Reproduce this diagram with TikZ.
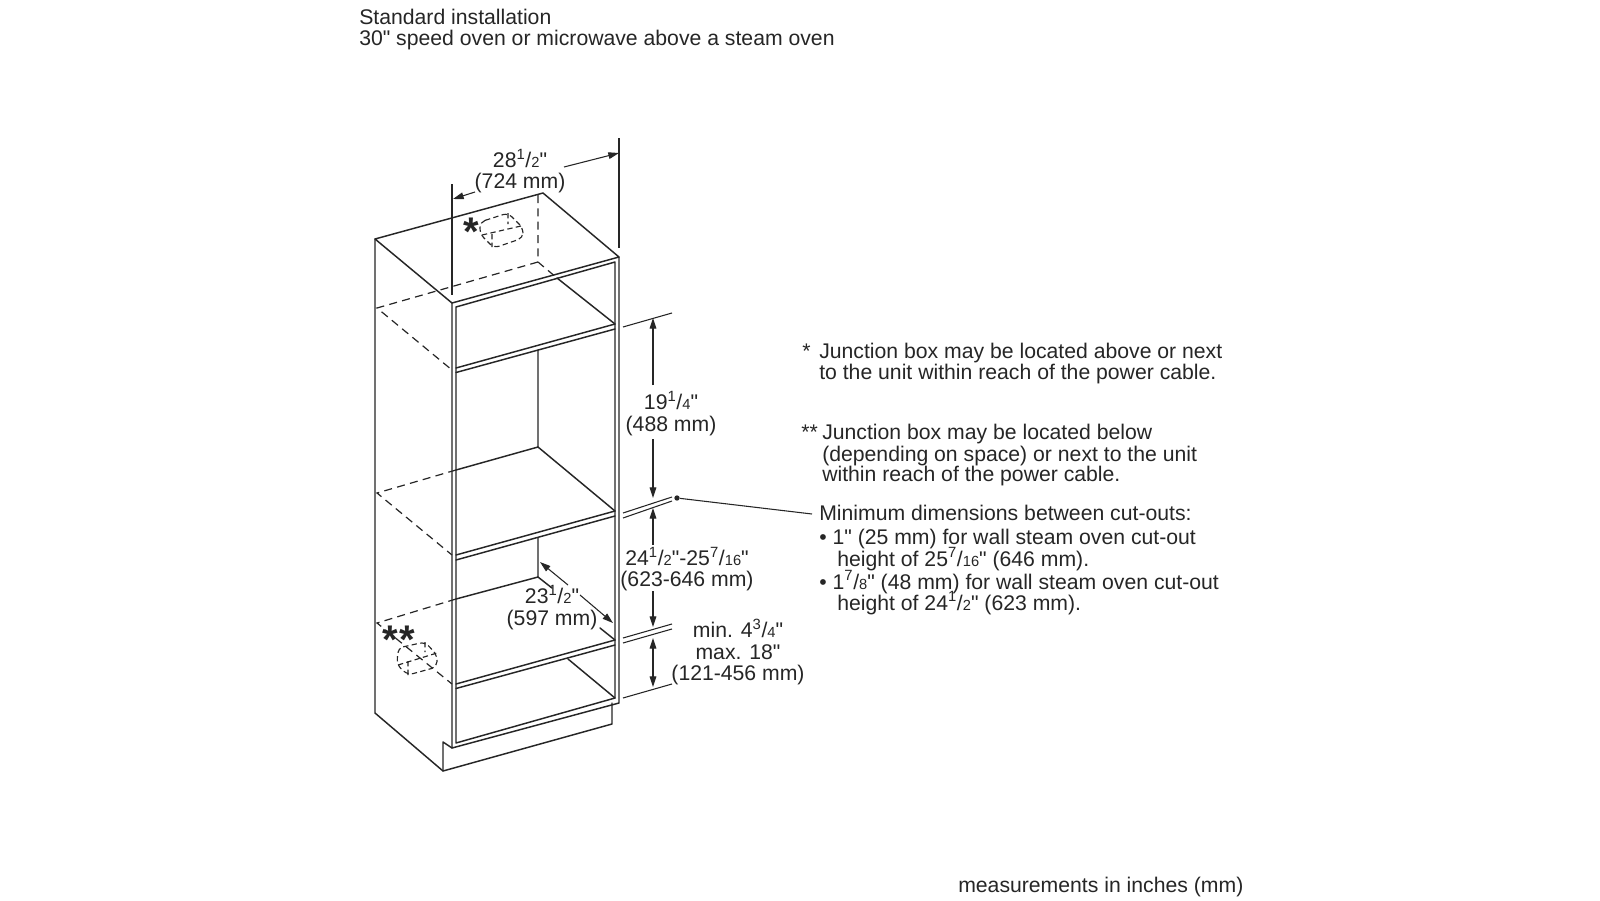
\documentclass[tikz,border=0pt]{standalone}
\usepackage{fontspec}
\newfontfamily\lsans{Liberation Sans}
\usetikzlibrary{arrows.meta}
\tikzset{
 px/.style={x=0.75pt,y=-0.75pt},
 ln/.style={draw=black!85,line width=1.1pt,line cap=round,line join=round},
 dsh/.style={draw=black!85,line width=0.9pt,dash pattern=on 6pt off 4pt},
 jb/.style={draw=black!85,line width=0.85pt,dash pattern=on 4pt off 2.5pt},
 thn/.style={draw=black!85,line width=0.8pt},
 dim/.style={draw=black!85,line width=0.8pt,-{Triangle[length=8pt,width=5pt]}},
 dimb/.style={draw=black!85,line width=0.8pt,{Triangle[length=8pt,width=5pt]}-{Triangle[length=8pt,width=5pt]}},
 star/.style={inner sep=0pt,font=\lsans\bfseries\fontsize{30pt}{30pt}\selectfont,text=black!85},
 txt/.style={inner sep=0pt,font=\lsans\fontsize{15.9pt}{16pt}\selectfont,text=black!85,align=center},
 ltxt/.style={inner sep=0pt,font=\lsans\fontsize{15.9pt}{16pt}\selectfont,text=black!85,anchor=base west},
}
\newcommand{\fr}[2]{\textsuperscript{#1}/{\fontsize{11pt}{11pt}\selectfont #2}}
\begin{document}
\begin{tikzpicture}[px]
\useasboundingbox[fill=white] (0,0) rectangle (1600,900);
% cabinet
\draw[ln] (452,303) -- (375,239) -- (543,193) -- (619,257) -- cycle;
\draw[ln] (375,239) -- (375,713) -- (443,771) -- (612,724) -- (612,703);
\draw[ln] (443,771) -- (443,742) -- (452,748);
\draw[ln] (452,303) -- (452,748) -- (619,703) -- (619,257);
\draw[ln] (456,307) -- (615,262) -- (615,698) -- (456,743) -- cycle;
\draw[ln] (456,368) -- (615,324); \draw[ln] (456,372.5) -- (615,329);
\draw[ln] (456,555) -- (615,511); \draw[ln] (456,560) -- (615,516);
\draw[ln] (456,684) -- (615,640); \draw[ln] (456,688.5) -- (615,645);
% interior
\draw[dsh] (538,195) -- (538,262) -- (557,278);
\draw[dsh] (538,262) -- (377,308) -- (452,370);
\draw[ln] (557,278) -- (615,324);
\draw[ln] (538,350) -- (538,447) -- (456,470);
\draw[ln] (538,447) -- (615,511);
\draw[dsh] (456,470) -- (377,493) -- (452,555);
\draw[ln] (538,538) -- (538,577) -- (456,599);
\draw[dsh] (456,599) -- (377,623) -- (452,684);
\draw[ln] (600,628) -- (615,640);
\draw[ln] (538,577) -- (552,588);
\draw[ln] (568,659) -- (615,698);
% junction boxes
\draw[jb,rounded corners=4pt] (480,222) -- (508,213) -- (523,228) -- (523,238) -- (494,248) -- (480,234) -- cycle;
\draw[jb] (482,235) -- (521,226) (508,213) -- (508,224) (492,234)--(492,247);
\draw[jb,rounded corners=4pt] (398,648) -- (425,642) -- (437,655) -- (437,667) -- (408,675) -- (397,665) -- cycle;
\draw[jb] (398,665) -- (437,653) (425,642) -- (425,652) (408,661)--(408,675);
% extension lines
\draw[thn] (452,184) -- (452,295);
\draw[thn] (619,138) -- (619,248);
\draw[thn] (623,327) -- (672,313);
\draw[thn] (623,513) -- (672,497); \draw[thn] (623,518) -- (672,501);
\draw[thn] (623,638) -- (672,624); \draw[thn] (623,643) -- (672,629);
\draw[thn] (623,698) -- (672,684);
% dimensions
\coordinate (w1) at (475,192); \coordinate (w2) at (453,199);
\coordinate (w3) at (564,167); \coordinate (w4) at (619,153);
\draw[dim] (w1) -- (w2); \draw[dim] (w3) -- (w4);
\coordinate (a1) at (653,385); \coordinate (a2) at (653,318);
\coordinate (a3) at (653,439); \coordinate (a4) at (653,498);
\coordinate (a5) at (653,545); \coordinate (a6) at (653,508);
\coordinate (a7) at (653,591); \coordinate (a8) at (653,627);
\coordinate (a9) at (653,638); \coordinate (a10) at (653,687);
\draw[dim] (a1) -- (a2); \draw[dim] (a3) -- (a4);
\draw[dim] (a5) -- (a6); \draw[dim] (a7) -- (a8);
\draw[dimb] (a9) -- (a10);
\coordinate (d1) at (568,585); \coordinate (d2) at (540,562);
\coordinate (d3) at (580,595); \coordinate (d4) at (613,623);
\draw[dim] (d1) -- (d2); \draw[dim] (d3) -- (d4);
% leader
\node[circle,fill=black!85,inner sep=0pt,minimum size=4pt] (dot) at (677,498) {};
\coordinate (lead) at (812,514);
\draw[thn] (dot) -- (lead);
% stars
\node[star] (s1) at (471,232) {*};
\node[star] (s2) at (399,640) {*\kern1pt*};
% labels
\node[txt] (l1) at (520,171) {28\fr{1}{2}"\\(724 mm)};
\node[txt] (l2) at (671,413.5) {19\fr{1}{4}"\\(488 mm)};
\node[txt] (l3) at (687,569) {24\fr{1}{2}"-25\fr{7}{16}"\\(623-646 mm)};
\node[txt] (l4) at (552,607.5) {23\fr{1}{2}"\\(597 mm)};
\node[txt] (l5) at (738,652) {min. 4\fr{3}{4}"\\max. 18"\\(121-456 mm)};
\node[ltxt] (t1) at (359,24) {Standard installation};
\node[ltxt] (t2) at (359,45) {30" speed oven or microwave above a steam oven};
\node[ltxt] (n0) at (802,358) {*};
\node[ltxt] (n1) at (819,358) {Junction box may be located above or next};
\node[ltxt] (n2) at (819,379.5) {to the unit within reach of the power cable.};
\node[ltxt] (n3) at (801,439) {**};
\node[ltxt] (n4) at (822,439) {Junction box may be located below};
\node[ltxt] (n5) at (822,461) {(depending on space) or next to the unit};
\node[ltxt] (n6) at (822,481.5) {within reach of the power cable.};
\node[ltxt] (m1) at (819,520) {Minimum dimensions between cut-outs:};
\node[ltxt] (m2) at (819,544.5) {• 1" (25 mm) for wall steam oven cut-out};
\node[ltxt] (m3) at (837,566) {height of 25\fr{7}{16}" (646 mm).};
\node[ltxt] (m4) at (819,589) {• 1\fr{7}{8}" (48 mm) for wall steam oven cut-out};
\node[ltxt] (m5) at (837,610) {height of 24\fr{1}{2}" (623 mm).};
\node[ltxt] (f) at (958,892) {measurements in inches (mm)};
\end{tikzpicture}
\end{document}
